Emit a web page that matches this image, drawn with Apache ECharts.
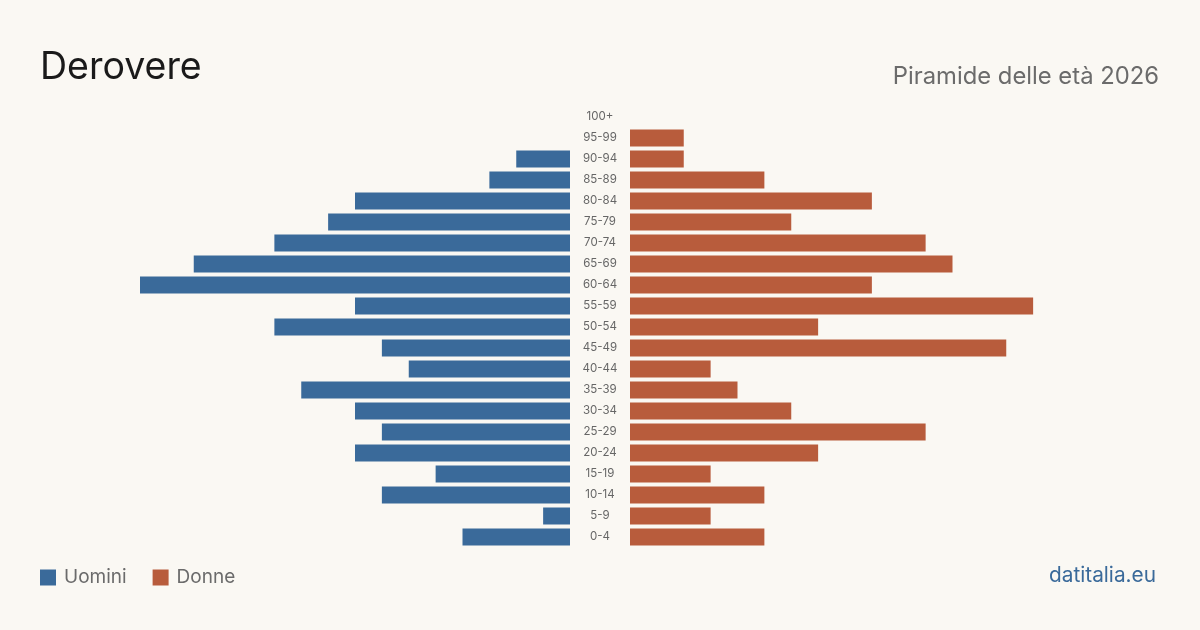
<!DOCTYPE html>
<html>
<head>
<meta charset="utf-8">
<script src="https://cdn.jsdelivr.net/npm/echarts@6/dist/echarts.min.js"></script>
<style>
html,body{margin:0;padding:0;background:#faf8f3;}
#c{width:1200px;height:630px;}
</style>
</head>
<body>
<div id="c"></div>
<script>
const ageGroups = ['0-4','5-9','10-14','15-19','20-24','25-29','30-34','35-39','40-44','45-49','50-54','55-59','60-64','65-69','70-74','75-79','80-84','85-89','90-94','95-99','100+'];
const men   = [4,1,7,5,8,7,8,10,6,7,11,8,16,14,11,9,8,3,2,0,0];
const women = [5,3,5,3,7,11,6,4,3,14,7,15,9,12,11,6,9,5,2,2,0];
const axisMax = 16;

const blue = '#3a6a9a', orange = '#b85c3c';
const chart = echarts.init(document.getElementById('c'));
chart.setOption({
  backgroundColor: '#faf8f3',
  textStyle: {fontFamily: 'Inter'},
  animation: false,
  title: [
    {text: 'Derovere', left: 40, top: 49, padding: 0, textStyle: {fontFamily: 'Inter', fontSize: 37.5, fontWeight: 'normal', color: '#1a1a1a'}},
    {text: 'Piramide delle età 2026', right: 41, top: 65, padding: 0, textStyle: {fontFamily: 'Inter', fontSize: 23.8, fontWeight: 'normal', color: '#6b6b6b'}},
    {text: 'datitalia.eu', right: 44, top: 565, padding: 0, textStyle: {fontFamily: 'Inter', fontSize: 20.8, fontWeight: 'normal', color: blue}}
  ],
  legend: {
    left: 40, top: 568, padding: 0, icon: 'rect', itemWidth: 16, itemHeight: 16, itemGap: 26,
    textStyle: {fontFamily: 'Inter', fontSize: 19, color: '#6b6b6b', padding: [0,0,0,3]},
    data: ['Uomini','Donne']
  },
  grid: [
    {left: 140, width: 430, top: 106.5, height: 441},
    {left: 630, width: 430, top: 106.5, height: 441}
  ],
  xAxis: [
    {gridIndex: 0, type: 'value', min: 0, max: axisMax, inverse: true, show: false},
    {gridIndex: 1, type: 'value', min: 0, max: axisMax, show: false}
  ],
  yAxis: [
    {gridIndex: 0, type: 'category', data: ageGroups, position: 'right',
     axisLine: {show: false}, axisTick: {show: false},
     axisLabel: {margin: 30, align: 'center', fontSize: 11.5, color: '#666', fontFamily: 'Inter', padding: [4,0,0,0]}},
    {gridIndex: 1, type: 'category', data: ageGroups, show: false}
  ],
  series: [
    {name: 'Uomini', type: 'bar', xAxisIndex: 0, yAxisIndex: 0, data: men, barWidth: 17, itemStyle: {color: blue}},
    {name: 'Donne', type: 'bar', xAxisIndex: 1, yAxisIndex: 1, data: women, barWidth: 17, itemStyle: {color: orange}}
  ]
});
</script>
</body>
</html>
